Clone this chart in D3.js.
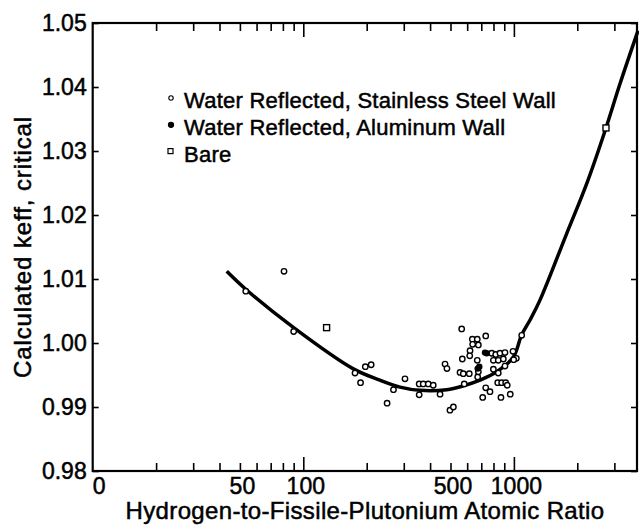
<!DOCTYPE html>
<html>
<head>
<meta charset="utf-8">
<script src="https://cdn.jsdelivr.net/npm/d3@7"></script>
<style>
body { margin: 0; background: #fff; }
text { font-family: "Liberation Sans", Arial, sans-serif; fill: #000; }
</style>
</head>
<body>
<div id="chart"></div>
<script>
// water reflected, stainless steel wall  [H/Pu ratio, keff]
var stainless = [
    [53.3, 1.0081], [81, 1.0112], [90, 1.0018], [176, 0.9953], [197, 0.9963], [210, 0.9966], [187, 0.9938],
    [250, 0.9906], [268, 0.9927], [304, 0.9944], [355, 0.9936], [355, 0.9919], [371, 0.9936], [392, 0.9936],
    [414, 0.9934], [446, 0.9920], [471, 0.9967], [481, 0.9960], [497, 0.9895], [516, 0.9900],
    [555, 0.9954], [575, 0.9952], [614, 0.9952], [565, 1.0022], [635, 1.0006], [670, 1.0006], [735, 1.0011],
    [637, 0.9998], [678, 0.9997], [619, 0.9988], [617, 0.9980], [569, 0.9975], [670, 0.9973],
    [673, 0.9947], [678, 0.9955], [785, 0.9984], [820, 0.9982], [859, 0.9984], [907, 0.9985],
    [799, 0.9973], [843, 0.9973], [891, 0.9975], [990, 0.9987], [1027, 0.9976], [998, 0.9974],
    [1089, 1.0012], [799, 0.9959], [843, 0.9953], [907, 0.9964], [581, 0.9936], [735, 0.9930], [770, 0.9924],
    [838, 0.9938], [875, 0.9938], [914, 0.9938], [930, 0.9934], [711, 0.9915], [868, 0.9915], [961, 0.9920]
]
// water reflected, aluminum wall
var aluminum = [[743, 0.9984], [729, 0.9985], [685, 0.9963], [673, 0.9960]]
// bare
var bare = [[129, 1.0024], [2737, 1.0336]]
// fitted curve
var curvePts = [
    [43.3, 1.0112], [53.3, 1.0084], [90, 1.0024], [172, 0.9960], [231, 0.9942],
    [288, 0.9931], [358, 0.9926], [480, 0.9927], [575, 0.9933], [690, 0.9942], [829, 0.9955],
    [994, 0.9978], [1089, 1.0013], [1193, 1.0036], [1330, 1.0067], [1781, 1.0171], [2217, 1.0249],
    [2737, 1.0336], [3190, 1.0405], [3885, 1.0488]
]

var yTicks = [0.98, 0.99, 1.00, 1.01, 1.02, 1.03, 1.04, 1.05]
var xMinor = [20, 30, 40, 50, 60, 70, 80, 90, 200, 300, 400, 500, 600, 700, 800, 900, 2000, 3000]
var xMajor = [100, 1000]
var xLabels = [10, 50, 100, 500, 1000]

var width = 640, height = 527
var pL = 92.7, pR = 637, pT = 23, pB = 471

var svg = d3.select("#chart").append("svg")
    .attr("width", width)
    .attr("height", height)

var x = d3.scaleLog().domain([10, 3842]).range([pL, pR])
var y = d3.scaleLinear().domain([0.98, 1.05]).range([pB, pT])

function tickAxis(axis, tr) {
    var g = svg.append("g").attr("transform", tr).call(axis)
    g.select(".domain").remove()
    g.selectAll("line").attr("stroke", "#000").attr("stroke-width", 1.6)
    return g
}

// ticks pointing inwards on all four sides
tickAxis(d3.axisBottom(x).tickValues(xMinor).tickSize(-8).tickFormat(""), "translate(0," + pB + ")")
tickAxis(d3.axisBottom(x).tickValues(xMajor).tickSize(-14).tickFormat(""), "translate(0," + pB + ")")
tickAxis(d3.axisTop(x).tickValues(xMinor).tickSize(-8).tickFormat(""), "translate(0," + pT + ")")
tickAxis(d3.axisTop(x).tickValues(xMajor).tickSize(-14).tickFormat(""), "translate(0," + pT + ")")
tickAxis(d3.axisRight(y).tickValues(yTicks).tickSize(-6).tickFormat(""), "translate(" + pR + ",0)")

// labels
var xl = tickAxis(d3.axisBottom(x).tickValues(xLabels).tickSize(0).tickPadding(7)
    .tickFormat(function (d) { return d == 10 ? "0" : d }), "translate(0," + pB + ")")
xl.selectAll("text").attr("font-size", 23).attr("font-family", null)
    .attr("stroke", "#000").attr("stroke-width", 0.5)
    .attr("dx", function (d) { return d == 10 ? 6 : 2 })

var yl = tickAxis(d3.axisLeft(y).tickValues(yTicks).tickSize(-6).tickPadding(6).tickFormat(d3.format(".2f")),
    "translate(" + pL + ",0)")
yl.selectAll("text").attr("font-size", 23).attr("font-family", null)
    .attr("stroke", "#000").attr("stroke-width", 0.5)

// frame
svg.append("rect")
    .attr("x", pL).attr("y", pT)
    .attr("width", pR - pL).attr("height", pB - pT)
    .attr("fill", "none").attr("stroke", "#000").attr("stroke-width", 2.2)

// curve
svg.append("clipPath").attr("id", "clip").append("rect")
    .attr("x", pL).attr("y", pT).attr("width", pR - pL + 2).attr("height", pB - pT)
var line = d3.line()
    .x(function (d) { return x(d[0]) })
    .y(function (d) { return y(d[1]) })
    .curve(d3.curveCatmullRom.alpha(0.5))
svg.append("path")
    .datum(curvePts)
    .attr("clip-path", "url(#clip)")
    .attr("d", line)
    .attr("fill", "none")
    .attr("stroke", "#000")
    .attr("stroke-width", 3.5)

// points
svg.append("g").selectAll("circle")
    .data(stainless)
    .enter().append("circle")
    .attr("cx", function (d) { return x(d[0]) })
    .attr("cy", function (d) { return y(d[1]) })
    .attr("r", 2.7)
    .attr("fill", "#fff")
    .attr("stroke", "#000")
    .attr("stroke-width", 1.4)

svg.append("g").selectAll("circle")
    .data(aluminum)
    .enter().append("circle")
    .attr("cx", function (d) { return x(d[0]) })
    .attr("cy", function (d) { return y(d[1]) })
    .attr("r", 3.2)
    .attr("fill", "#000")

svg.append("g").selectAll("rect")
    .data(bare)
    .enter().append("rect")
    .attr("x", function (d) { return x(d[0]) - 3 })
    .attr("y", function (d) { return y(d[1]) - 3 })
    .attr("width", 6).attr("height", 6)
    .attr("fill", "#fff")
    .attr("stroke", "#000")
    .attr("stroke-width", 1.4)

// legend
var legend = [
    { label: "Water Reflected, Stainless Steel Wall", type: "open" },
    { label: "Water Reflected, Aluminum Wall", type: "filled" },
    { label: "Bare", type: "square" }
]
var lg = svg.append("g")
legend.forEach(function (d, i) {
    var ly = 108 + i * 26.8
    if (d.type == "square") {
        lg.append("rect").attr("x", 168).attr("y", ly - 13).attr("width", 5).attr("height", 5)
            .attr("fill", "#fff").attr("stroke", "#000").attr("stroke-width", 1.2)
    } else {
        lg.append("circle").attr("cx", 171).attr("cy", ly - 10).attr("r", d.type == "open" ? 2.2 : 2.6)
            .attr("fill", d.type == "open" ? "#fff" : "#000").attr("stroke", "#000").attr("stroke-width", 1.1)
    }
    lg.append("text").attr("x", 184).attr("y", ly)
        .attr("font-size", 22).attr("letter-spacing", 0.25)
        .attr("stroke", "#000").attr("stroke-width", 0.5)
        .text(d.label)
})

// axis titles
svg.append("text")
    .attr("x", 365).attr("y", 519)
    .attr("text-anchor", "middle")
    .attr("font-size", 24).attr("letter-spacing", 0.35)
    .attr("stroke", "#000").attr("stroke-width", 0.5)
    .text("Hydrogen-to-Fissile-Plutonium Atomic Ratio")

svg.append("text")
    .attr("transform", "translate(31,247) rotate(-90)")
    .attr("text-anchor", "middle")
    .attr("font-size", 24).attr("letter-spacing", 0.9)
    .attr("stroke", "#000").attr("stroke-width", 0.5)
    .text("Calculated keff, critical")
</script>
</body>
</html>
